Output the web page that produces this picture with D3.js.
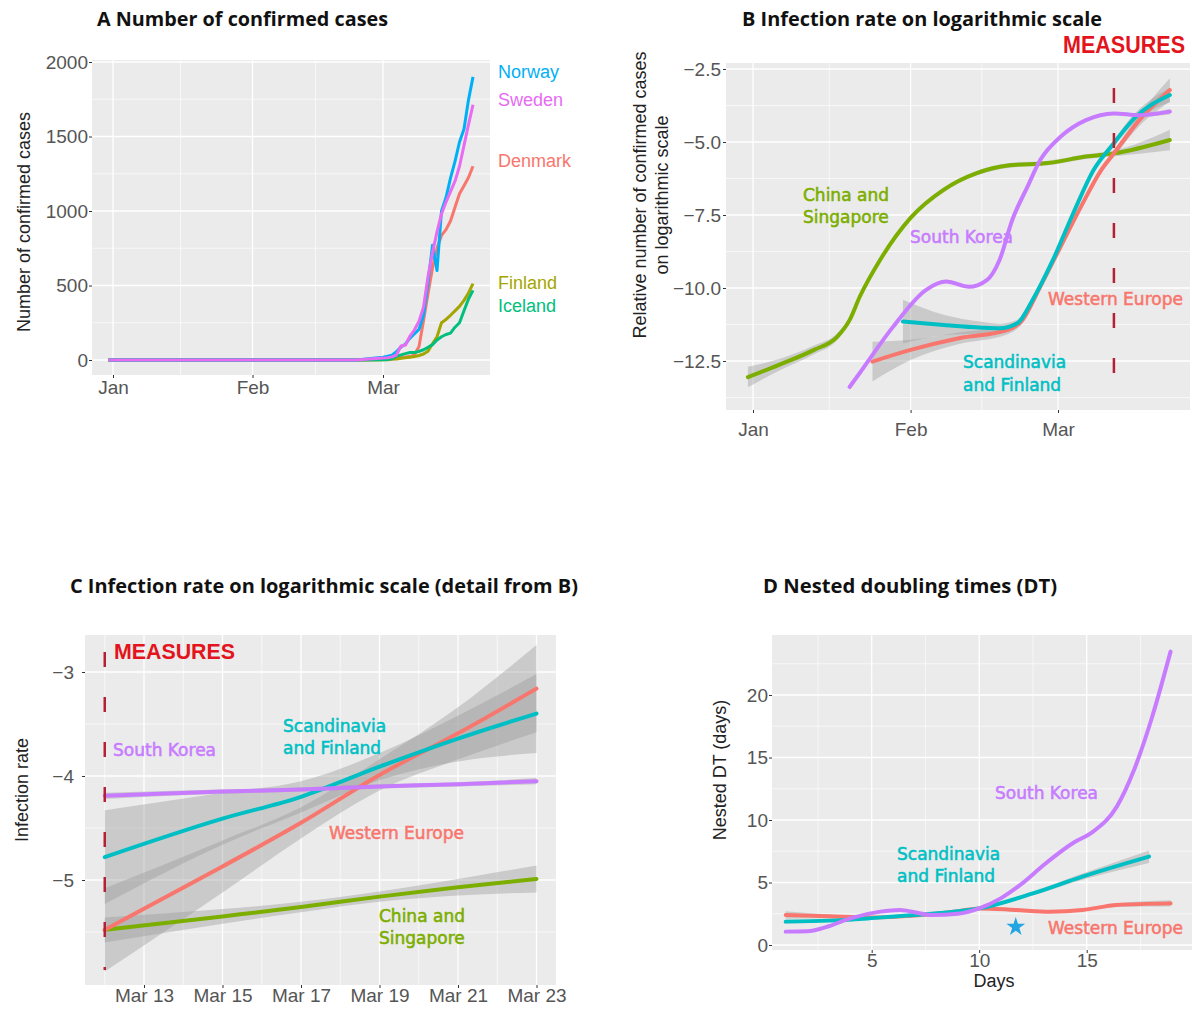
<!DOCTYPE html>
<html>
<head>
<meta charset="utf-8">
<title>Confirmed cases and infection rates</title>
<script src="https://cdn.jsdelivr.net/npm/d3@7"></script>
<style>
  body { margin: 0; background: #fff; }
  svg text { font-family: "Liberation Sans", Arial, sans-serif; }
  .title { font-family: "Open Sans", "Liberation Sans", sans-serif; font-weight: 700; font-size: 19px; fill: #111; }
  .measures { font-family: "Liberation Sans Narrow", "Liberation Sans", sans-serif; font-weight: 700; fill: #e3141c; }
  .axis-title { font-size: 18px; fill: #222; }
  .group-label { font-family: "DejaVu Sans", sans-serif; font-size: 17px; stroke-width: 0.55px; }
</style>
</head>
<body>
<svg id="figure" width="1199" height="1011"></svg>
<script>
// ---------- A: cumulative confirmed cases ----------
const datesA = ["2019-12-31", "2020-02-24", "2020-03-01", "2020-03-02", "2020-03-03", "2020-03-04",
  "2020-03-05", "2020-03-06", "2020-03-07", "2020-03-08", "2020-03-09", "2020-03-10", "2020-03-11",
  "2020-03-12", "2020-03-13", "2020-03-14", "2020-03-15", "2020-03-16", "2020-03-17", "2020-03-18",
  "2020-03-19", "2020-03-20", "2020-03-21"];
const denmarkA = [0, 0, 4, 4, 6, 10, 15, 20, 23, 35, 90, 264, 444, 617, 750, 836, 875, 933, 1025, 1116, 1170, 1225, 1300];
const finlandA = [0, 0, 2, 2, 6, 7, 12, 15, 19, 23, 30, 40, 59, 109, 156, 250, 272, 300, 330, 360, 400, 450, 513];
const icelandA = [0, 0, 1, 3, 9, 26, 34, 43, 50, 50, 58, 69, 85, 103, 134, 156, 171, 180, 220, 250, 330, 409, 467];
const norwayA = [0, 0, 19, 25, 32, 56, 87, 108, 147, 176, 205, 300, 520, 770, 600, 1000, 1090, 1221, 1333, 1463, 1550, 1746, 1900];
const swedenA = [0, 0, 14, 15, 21, 35, 94, 101, 161, 203, 260, 355, 560, 720, 860, 980, 1060, 1130, 1200, 1300, 1440, 1580, 1713];
const countriesA = ["Denmark", "Finland", "Iceland", "Norway", "Sweden"];
const casesTicksA = [0, 500, 1000, 1500, 2000];
const casesMinorA = [250, 750, 1250, 1750];
const monthTicks = ["2020-01-01", "2020-02-01", "2020-03-01"];
const monthMinor = ["2020-01-16", "2020-02-15"];

// ---------- B: smoothed log infection rate, days since 1 Jan ----------
const chinaDaysB = [-1, 5, 12, 16.5, 19, 21, 25, 31, 37.5, 44, 50.5, 58, 65.5, 71, 82];
const chinaRateB = [-13.05, -12.64, -12.12, -11.68, -11.1, -10.3, -9.04, -7.6, -6.64, -6.07, -5.8, -5.72, -5.5, -5.39, -4.93];
const chinaSeB = [0.35, 0.2, 0.15, 0.12, 0.1, 0.1, 0.08, 0.08, 0.08, 0.08, 0.08, 0.08, 0.08, 0.1, 0.35];
const koreaDaysB = [19, 21, 27.5, 34, 38, 42.5, 46, 48.5, 51, 54, 56.5, 60.5, 65.5, 71, 76, 82];
const koreaRateB = [-13.39, -12.91, -11.34, -10.07, -9.78, -9.96, -9.73, -9.04, -7.67, -6.53, -5.62, -4.82, -4.25, -4.02, -4.08, -3.96];
const koreaSeB = [0.1, 0.06, 0.05, 0.05, 0.05, 0.05, 0.05, 0.05, 0.05, 0.05, 0.05, 0.05, 0.05, 0.05, 0.06, 0.1];
const scandDaysB = [29.5, 37.5, 45, 48.5, 52, 55, 59, 63, 67, 71, 75, 82];
const scandRateB = [-11.15, -11.27, -11.36, -11.38, -11.21, -10.41, -9.04, -7.44, -5.96, -5.04, -4.19, -3.39];
const scandSeB = [0.75, 0.35, 0.2, 0.15, 0.12, 0.1, 0.1, 0.1, 0.1, 0.12, 0.15, 0.25];
const westDaysB = [23.5, 31, 40.5, 50, 53, 56.5, 60.5, 64.5, 68.5, 71, 76, 82];
const westRateB = [-12.52, -12.12, -11.72, -11.44, -11.1, -9.96, -8.59, -7.22, -5.96, -5.39, -4.25, -3.22];
const westSeB = [0.68, 0.35, 0.2, 0.15, 0.12, 0.1, 0.1, 0.1, 0.1, 0.12, 0.2, 0.4];
const rateTicksB = [-12.5, -10, -7.5, -5, -2.5];
const rateMinorB = [-13.75, -11.25, -8.75, -6.25, -3.75];
const measuresDate = "2020-03-12";

// ---------- C: detail from B, 12-23 March ----------
const datesC = ["2020-03-12", "2020-03-15", "2020-03-17", "2020-03-19", "2020-03-21", "2020-03-23"];
const chinaC = [-5.48, -5.35, -5.26, -5.16, -5.07, -4.99];
const chinaSeC = [0.12, 0.07, 0.05, 0.05, 0.08, 0.13];
const koreaC = [-4.19, -4.15, -4.13, -4.10, -4.08, -4.05];
const koreaSeC = [0.03, 0.02, 0.02, 0.02, 0.02, 0.03];
const scandC = [-4.78, -4.41, -4.2, -3.91, -3.64, -3.40];
const scandSeC = [0.45, 0.25, 0.15, 0.13, 0.22, 0.38];
const westC = [-5.48, -4.87, -4.45, -3.99, -3.59, -3.16];
const westSeC = [0.4, 0.25, 0.15, 0.15, 0.25, 0.42];
const dayTicksC = ["2020-03-13", "2020-03-15", "2020-03-17", "2020-03-19", "2020-03-21", "2020-03-23"];
const dayMinorC = ["2020-03-12", "2020-03-14", "2020-03-16", "2020-03-18", "2020-03-20", "2020-03-22"];
const rateTicksC = [-5, -4, -3];
const rateMinorC = [-5.5, -4.5, -3.5];

// ---------- D: nested doubling times ----------
const koreaDaysD = [1, 2, 3, 4, 5.4, 6.3, 7.8, 9, 10, 11, 12, 13, 14.4, 15.3, 16.4, 17.2, 18, 18.9];
const koreaDT = [1.07, 1.1, 1.5, 2.13, 2.67, 2.8, 2.4, 2.5, 2.93, 3.73, 4.93, 6.4, 8.2, 9.07, 11.07, 14.0, 18.0, 23.47];
const koreaSeD = [0.1, 0.08, 0.08, 0.08, 0.08, 0.08, 0.08, 0.08, 0.08, 0.08, 0.08, 0.08, 0.08, 0.08, 0.1, 0.1, 0.1, 0.15];
const scandDaysD = [1, 3, 5, 7, 9, 10, 12.5, 14.8, 17.9];
const scandDT = [1.87, 1.95, 2.15, 2.4, 2.7, 2.93, 4.13, 5.47, 7.07];
const scandSeD = [0.15, 0.1, 0.08, 0.08, 0.08, 0.1, 0.15, 0.25, 0.5];
const westDaysD = [1, 3, 5, 7, 9, 10, 11.7, 13.3, 14.8, 16.4, 18.9];
const westDT = [2.4, 2.3, 2.2, 2.35, 2.7, 2.93, 2.8, 2.67, 2.8, 3.2, 3.33];
const westSeD = [0.3, 0.15, 0.1, 0.1, 0.1, 0.1, 0.1, 0.1, 0.1, 0.15, 0.25];
const dtTicksD = [0, 5, 10, 15, 20];
const dtMinorD = [2.5, 7.5, 12.5, 17.5, 22.5];
const dayTicksD = [5, 10, 15];
const dayMinorD = [2.5, 7.5, 12.5, 17.5];
const starD = { day: 11.7, dt: 1.45 };

// ggplot hue colours
const countryColour = { Denmark: "#F8766D", Finland: "#A3A500", Iceland: "#00BF7D", Norway: "#00B0F6", Sweden: "#E76BF3" };
const groupColour = { china: "#7CAE00", korea: "#C77CFF", scand: "#00BFC4", west: "#F8766D" };

const svg = d3.select("#figure");
const parseDay = d3.utcParse("%Y-%m-%d");
const jan1 = Date.UTC(2020, 0, 1);
const dayToDate = d => new Date(jan1 + d * 864e5);

// grey ggplot panel with grid, ticks and tick labels
function panel(box, x, y, xMajor, xMinor, yMajor, yMinor, xFmt, yFmt, pad) {
    const g = svg.append("g");
    g.append("rect")
        .attr("x", box.left).attr("y", box.top)
        .attr("width", box.right - box.left).attr("height", box.bottom - box.top)
        .attr("fill", "#EBEBEB");

    const hGrid = (vals, w) => g.append("g").selectAll("line").data(vals).join("line")
        .attr("x1", box.left).attr("x2", box.right)
        .attr("y1", d => y(d)).attr("y2", d => y(d))
        .attr("stroke", "#fff").attr("stroke-width", w);
    const vGrid = (vals, w) => g.append("g").selectAll("line").data(vals).join("line")
        .attr("y1", box.top).attr("y2", box.bottom)
        .attr("x1", d => x(d)).attr("x2", d => x(d))
        .attr("stroke", "#fff").attr("stroke-width", w);
    hGrid(yMinor, 0.6); vGrid(xMinor, 0.6);
    hGrid(yMajor, 1.3); vGrid(xMajor, 1.3);

    const yAxis = g.append("g").attr("transform", "translate(" + box.left + ",0)")
        .call(d3.axisLeft(y).tickValues(yMajor).tickFormat(yFmt).tickSize(3).tickPadding(pad.y));
    const xAxis = g.append("g").attr("transform", "translate(0," + box.bottom + ")")
        .call(d3.axisBottom(x).tickValues(xMajor).tickFormat(xFmt).tickSize(3).tickPadding(pad.x));
    [yAxis, xAxis].forEach(a => {
        a.attr("font-family", null).attr("font-size", null);
        a.select(".domain").remove();
        a.selectAll(".tick line").attr("stroke", "#333");
        a.selectAll(".tick text").attr("fill", "#555").style("font-size", "19px");
    });
    return g;
}

function band(g, pts, x, y) {
    g.append("path").datum(pts)
        .attr("fill", "#999").attr("fill-opacity", 0.4)
        .attr("d", d3.area().curve(d3.curveMonotoneX)
            .x(d => x(d.x)).y0(d => y(d.v - d.se)).y1(d => y(d.v + d.se)));
}

function curve(g, pts, x, y, colour, width) {
    g.append("path").datum(pts)
        .attr("fill", "none").attr("stroke", colour).attr("stroke-width", width)
        .attr("stroke-linejoin", "round").attr("stroke-linecap", "round")
        .attr("d", d3.line().curve(d3.curveMonotoneX).x(d => x(d.x)).y(d => y(d.v)));
}

function zipSeries(xs, vs, ses) {
    return xs.map((d, i) => ({ x: d, v: vs[i], se: ses ? ses[i] : 0 }));
}

function label(lines, xPos, yPos, colour, gap) {
    const t = svg.append("text").attr("class", "group-label").attr("fill", colour).attr("stroke", colour);
    lines.forEach((s, i) => t.append("tspan").attr("x", xPos).attr("y", yPos + i * gap).text(s));
}

function title(txt, xPos, yPos, len) {
    svg.append("text").attr("class", "title").attr("x", xPos).attr("y", yPos)
        .attr("textLength", len).attr("lengthAdjust", "spacingAndGlyphs").text(txt);
}

function yTitle(lines, xPos, yPos) {
    lines.forEach((s, i) => svg.append("text").attr("class", "axis-title")
        .attr("text-anchor", "middle")
        .attr("transform", "translate(" + (xPos + i * 22) + "," + yPos + ") rotate(-90)")
        .text(s));
}

function measures(xPos, yPos, size, len) {
    svg.append("text").attr("class", "measures").attr("x", xPos).attr("y", yPos)
        .style("font-size", size + "px")
        .attr("textLength", len).attr("lengthAdjust", "spacingAndGlyphs").text("MEASURES");
}

const monthFmt = d3.utcFormat("%b");

// ================= A =================
{
    const box = { left: 92, right: 490, top: 60, bottom: 375 };
    const x = d3.scaleUtc().domain([parseDay("2020-01-01"), parseDay("2020-03-01")]).range([113, 383]);
    const y = d3.scaleLinear().domain([0, 2000]).range([360, 62]);
    const g = panel(box, x, y, monthTicks.map(parseDay), monthMinor.map(parseDay),
        casesTicksA, casesMinorA, monthFmt, d3.format("d"), { x: 2.5, y: 1 });

    const seriesA = { Denmark: denmarkA, Finland: finlandA, Iceland: icelandA, Norway: norwayA, Sweden: swedenA };
    const line = d3.line().x(d => x(d.date)).y(d => y(d.cases));
    countriesA.forEach(c => {
        const pts = datesA.map((d, i) => ({ date: parseDay(d), cases: seriesA[c][i] }));
        g.append("path").datum(pts)
            .attr("fill", "none").attr("stroke", countryColour[c]).attr("stroke-width", 3)
            .attr("stroke-linejoin", "round").attr("d", line);
    });

    const labY = { Norway: 78, Sweden: 106, Denmark: 167, Finland: 289, Iceland: 312 };
    countriesA.forEach(c => {
        svg.append("text").attr("x", 498).attr("y", labY[c])
            .attr("fill", countryColour[c]).style("font-size", "18px").text(c);
    });
    title("A Number of confirmed cases", 97, 26, 291);
    yTitle(["Number of confirmed cases"], 30, 222);
}

// ================= B =================
{
    const box = { left: 726, right: 1190, top: 63, bottom: 410 };
    const x = d3.scaleUtc().domain([parseDay("2020-01-01"), parseDay("2020-03-01")]).range([753, 1058]);
    const y = d3.scaleLinear().domain([-12.5, -5]).range([361, 142]);
    const g = panel(box, x, y, monthTicks.map(parseDay), monthMinor.map(parseDay),
        rateTicksB, rateMinorB, monthFmt, d3.format(".1f"), { x: 9.5, y: 2 });

    const series = [
        { key: "china", pts: zipSeries(chinaDaysB.map(dayToDate), chinaRateB, chinaSeB) },
        { key: "west", pts: zipSeries(westDaysB.map(dayToDate), westRateB, westSeB) },
        { key: "scand", pts: zipSeries(scandDaysB.map(dayToDate), scandRateB, scandSeB) },
        { key: "korea", pts: zipSeries(koreaDaysB.map(dayToDate), koreaRateB, koreaSeB) }
    ];
    series.forEach(s => band(g, s.pts, x, y));
    series.forEach(s => curve(g, s.pts, x, y, groupColour[s.key], 4));

    g.append("line")
        .attr("x1", x(parseDay(measuresDate))).attr("x2", x(parseDay(measuresDate)))
        .attr("y1", 88).attr("y2", 402)
        .attr("stroke", "#B22234").attr("stroke-width", 2.5).attr("stroke-dasharray", "15,30");

    label(["China and", "Singapore"], 803, 201, groupColour.china, 22);
    label(["South Korea"], 910, 243, groupColour.korea, 22);
    label(["Western Europe"], 1048, 305, groupColour.west, 22);
    label(["Scandinavia", "and Finland"], 963, 368, groupColour.scand, 23);
    measures(1063, 53, 23, 122);
    title("B Infection rate on logarithmic scale", 742, 26, 360);
    yTitle(["Relative number of confirmed cases", "on logarithmic scale"], 646, 195);
}

// ================= C =================
{
    const box = { left: 85, right: 556, top: 635, bottom: 985 };
    const x = d3.scaleUtc().domain([parseDay("2020-03-13"), parseDay("2020-03-23")]).range([144, 536.5]);
    const y = d3.scaleLinear().domain([-5, -3]).range([880, 672]);
    const g = panel(box, x, y, dayTicksC.map(parseDay), dayMinorC.map(parseDay),
        rateTicksC, rateMinorC, d3.utcFormat("%b %d"), d3.format("d"), { x: 0, y: 8 });

    const dc = datesC.map(parseDay);
    const series = [
        { key: "china", pts: zipSeries(dc, chinaC, chinaSeC) },
        { key: "west", pts: zipSeries(dc, westC, westSeC) },
        { key: "scand", pts: zipSeries(dc, scandC, scandSeC) },
        { key: "korea", pts: zipSeries(dc, koreaC, koreaSeC) }
    ];
    series.forEach(s => band(g, s.pts, x, y));
    series.forEach(s => curve(g, s.pts, x, y, groupColour[s.key], 4));

    g.append("line")
        .attr("x1", x(parseDay(measuresDate))).attr("x2", x(parseDay(measuresDate)))
        .attr("y1", 652).attr("y2", 970)
        .attr("stroke", "#B22234").attr("stroke-width", 2.5).attr("stroke-dasharray", "15,30");

    label(["South Korea"], 113, 756, groupColour.korea, 22);
    label(["Scandinavia", "and Finland"], 283, 732, groupColour.scand, 22);
    label(["Western Europe"], 329, 839, groupColour.west, 22);
    label(["China and", "Singapore"], 379, 922, groupColour.china, 22);
    measures(114, 659, 22, 121);
    title("C Infection rate on logarithmic scale (detail from B)", 70, 593, 508);
    yTitle(["Infection rate"], 28, 790);
}

// ================= D =================
{
    const box = { left: 772, right: 1192, top: 635, bottom: 950 };
    const x = d3.scaleLinear().domain([5, 15]).range([871.7, 1086.7]);
    const y = d3.scaleLinear().domain([0, 20]).range([945, 695]);
    const g = panel(box, x, y, dayTicksD, dayMinorD, dtTicksD, dtMinorD,
        d3.format("d"), d3.format("d"), { x: 0.5, y: 1 });

    const series = [
        { key: "west", pts: zipSeries(westDaysD, westDT, westSeD) },
        { key: "scand", pts: zipSeries(scandDaysD, scandDT, scandSeD) },
        { key: "korea", pts: zipSeries(koreaDaysD, koreaDT, koreaSeD) }
    ];
    series.forEach(s => band(g, s.pts, x, y));
    series.forEach(s => curve(g, s.pts, x, y, groupColour[s.key], 4));

    g.append("path")
        .attr("transform", "translate(" + x(starD.day) + "," + y(starD.dt) + ")")
        .attr("d", d3.symbol(d3.symbolStar, 110)())
        .attr("fill", "#22A5E0");

    label(["South Korea"], 995, 799, groupColour.korea, 22);
    label(["Scandinavia", "and Finland"], 897, 860, groupColour.scand, 22);
    label(["Western Europe"], 1048, 934, groupColour.west, 22);
    title("D Nested doubling times (DT)", 763, 593, 294);
    yTitle(["Nested DT (days)"], 726, 770);
    svg.append("text").attr("class", "axis-title").attr("text-anchor", "middle")
        .attr("x", 994).attr("y", 987).text("Days");
}
</script>
</body>
</html>
